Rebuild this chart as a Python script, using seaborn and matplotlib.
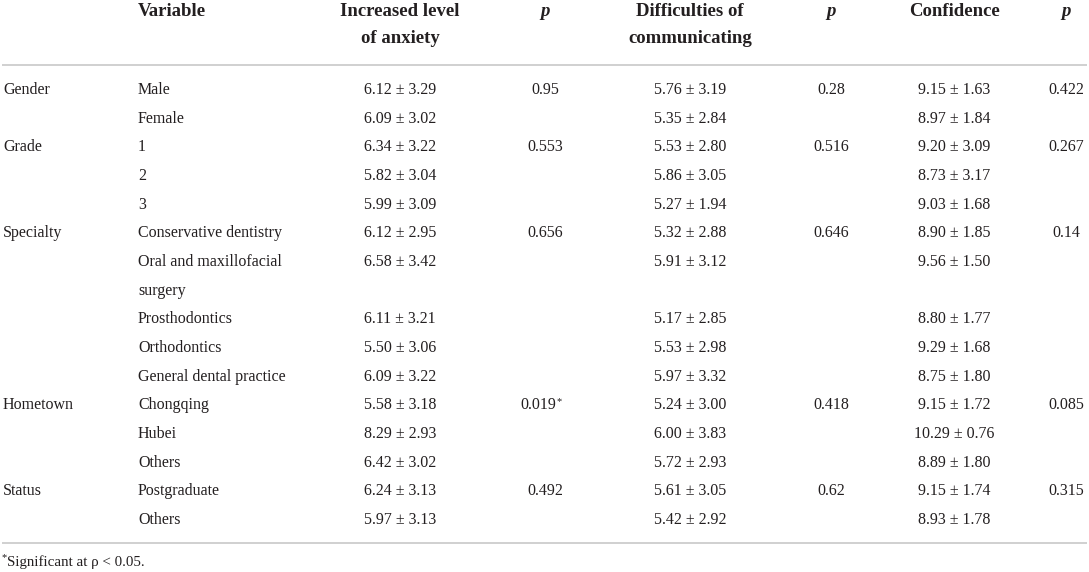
import pandas as pd
import seaborn as sns
import matplotlib.pyplot as plt

# Dados da tabela
grupos = ["Gender", "", "Grade", "", "", "Specialty", "", "", "", "",
          "Hometown", "", "", "Status", ""]
variaveis = ["Male", "Female", "1", "2", "3", "Conservative dentistry",
             "Oral and maxillofacial\nsurgery", "Prosthodontics", "Orthodontics",
             "General dental practice", "Chongqing", "Hubei", "Others",
             "Postgraduate", "Others"]
ansiedade = ["6.12 ± 3.29", "6.09 ± 3.02", "6.34 ± 3.22", "5.82 ± 3.04", "5.99 ± 3.09",
             "6.12 ± 2.95", "6.58 ± 3.42", "6.11 ± 3.21", "5.50 ± 3.06", "6.09 ± 3.22",
             "5.58 ± 3.18", "8.29 ± 2.93", "6.42 ± 3.02", "6.24 ± 3.13", "5.97 ± 3.13"]
p_ansiedade = ["0.95", "", "0.553", "", "", "0.656", "", "", "", "",
               "0.019*", "", "", "0.492", ""]
comunicacao = ["5.76 ± 3.19", "5.35 ± 2.84", "5.53 ± 2.80", "5.86 ± 3.05", "5.27 ± 1.94",
               "5.32 ± 2.88", "5.91 ± 3.12", "5.17 ± 2.85", "5.53 ± 2.98", "5.97 ± 3.32",
               "5.24 ± 3.00", "6.00 ± 3.83", "5.72 ± 2.93", "5.61 ± 3.05", "5.42 ± 2.92"]
p_comunicacao = ["0.28", "", "0.516", "", "", "0.646", "", "", "", "",
                 "0.418", "", "", "0.62", ""]
confianca = ["9.15 ± 1.63", "8.97 ± 1.84", "9.20 ± 3.09", "8.73 ± 3.17", "9.03 ± 1.68",
             "8.90 ± 1.85", "9.56 ± 1.50", "8.80 ± 1.77", "9.29 ± 1.68", "8.75 ± 1.80",
             "9.15 ± 1.72", "10.29 ± 0.76", "8.89 ± 1.80", "9.15 ± 1.74", "8.93 ± 1.78"]
p_confianca = ["0.422", "", "0.267", "", "", "0.14", "", "", "", "",
               "0.085", "", "", "0.315", ""]

cabecalhos = ["Variable", "Increased level\nof anxiety", "p",
              "Difficulties of\ncommunicating", "p", "Confidence", "p"]
nota = "Significant at \u03c1 < 0.05."

df = pd.DataFrame({
    "grupo": grupos, "variavel": variaveis,
    "ansiedade": ansiedade, "p1": p_ansiedade,
    "comunicacao": comunicacao, "p2": p_comunicacao,
    "confianca": confianca, "p3": p_confianca,
})

sns.set_theme(style="white")
plt.rcParams["font.family"] = ["Liberation Serif", "DejaVu Serif"]
cor_texto = "#231f20"
cor_linha = "#c8c8c8"

fig = plt.figure(figsize=(10.89, 5.72), dpi=100)
ax = fig.add_axes([0, 0, 1, 1])
ax.set_xlim(0, 1089)
ax.set_ylim(572, 0)
ax.axis("off")

# Posições das colunas (centros), em pixels
x_grupo, x_var = 3, 138
x_cols = [400, 545, 690, 831, 954, 1066]

# Cabeçalho
fs_cab = 13.5
ax.text(x_var, 12, cabecalhos[0], ha="left", va="center", fontsize=fs_cab,
        fontweight="bold", color=cor_texto)
for x, cab in zip(x_cols, cabecalhos[1:]):
    estilo = "italic" if cab == "p" else "normal"
    for k, l in enumerate(cab.split("\n")):
        ax.text(x, 12 + k * 26.5, l, ha="center", va="center", fontsize=fs_cab,
                fontweight="bold", fontstyle=estilo, color=cor_texto)

ax.plot([2, 1087], [65, 65], color=cor_linha, lw=1.2, solid_capstyle="butt")

# Corpo
fs = 11.5
y0, passo = 90, 28.67
linha = 0
for _, r in df.iterrows():
    y = y0 + linha * passo
    ax.text(x_grupo, y, r["grupo"], ha="left", va="center", fontsize=fs, color=cor_texto)
    for k, l in enumerate(r["variavel"].split("\n")):
        ax.text(x_var, y + k * passo, l, ha="left", va="center", fontsize=fs, color=cor_texto)
    for x, col in zip(x_cols, ["ansiedade", "p1", "comunicacao", "p2", "confianca", "p3"]):
        val = r[col]
        if val.endswith("*"):
            ax.text(x + 11, y, val[:-1], ha="right", va="center", fontsize=fs, color=cor_texto)
            ax.text(x + 11.5, y - 4, "*", ha="left", va="center", fontsize=7.5, color=cor_texto)
        else:
            ax.text(x, y, val, ha="center", va="center", fontsize=fs, color=cor_texto)
    linha += len(r["variavel"].split("\n"))

ax.plot([2, 1087], [543, 543], color=cor_linha, lw=1.2, solid_capstyle="butt")

# Nota de rodapé
ax.text(2, 558, "*", ha="left", va="center", fontsize=7.5, color=cor_texto)
ax.text(7, 562, nota, ha="left", va="center", fontsize=10.8, color=cor_texto)

plt.savefig("out.png", dpi=100)
plt.close()
